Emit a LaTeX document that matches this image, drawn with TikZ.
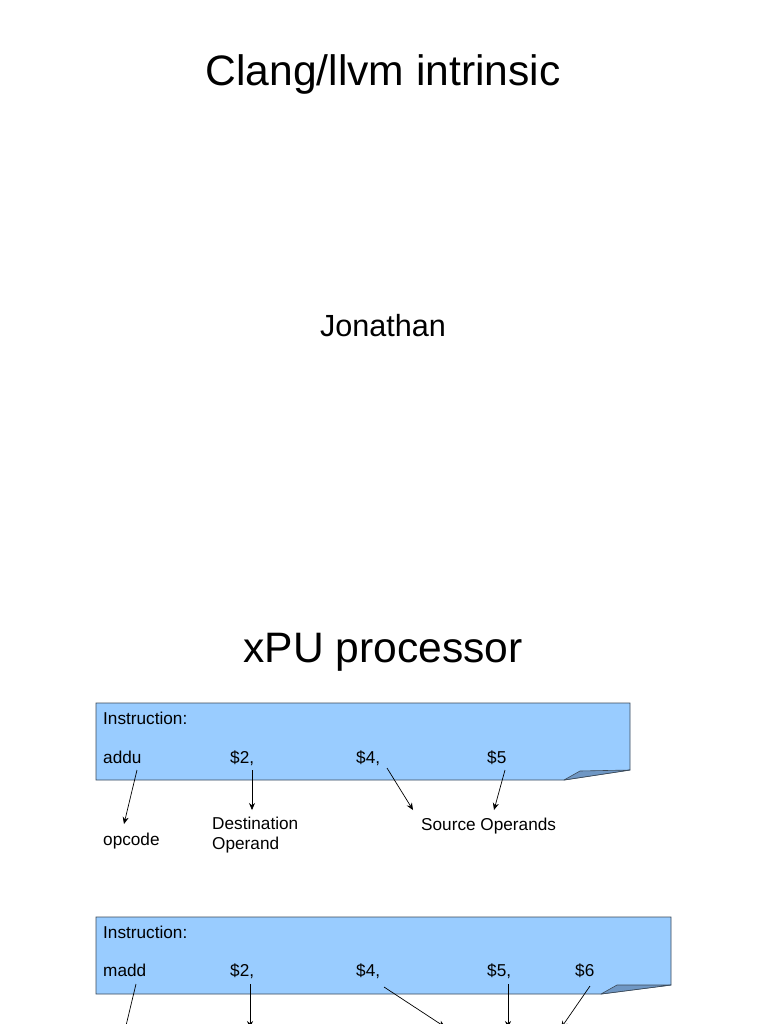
\documentclass[tikz,border=0pt]{standalone}
\usepackage{fontspec}
\setmainfont{Liberation Sans}
\usetikzlibrary{arrows.meta, calc}
\definecolor{cardblue}{HTML}{99CCFF}
\definecolor{cardline}{HTML}{3C4A58}
\definecolor{foldblue}{HTML}{6F97C4}

\begin{document}
\begin{tikzpicture}[
    x=1pt, y=-1pt,
    heading/.style={font=\fontsize{42.6}{50}\selectfont, inner sep=0pt, anchor=base},
    author/.style={font=\fontsize{30.6}{36}\selectfont, inner sep=0pt, anchor=base},
    card/.style={draw=cardline, fill=cardblue, line width=0.8pt},
    fold/.style={draw=cardline, fill=foldblue, line width=0.6pt, line join=round},
    field/.style={font=\fontsize{17.2}{20}\selectfont, inner sep=0pt, anchor=base west},
    note/.style={font=\fontsize{17.2}{20}\selectfont, inner sep=0pt, align=left},
    ptr/.style={-{Stealth[length=7pt, width=6pt]}, line width=0.7pt},
]

\fill[white] (0,0) rectangle (768,1024);
\useasboundingbox (0,0) rectangle (768,1024);

% Title slide
\node[heading] (title) at (383,86) {Clang/llvm intrinsic};
\node[author] (name) at (383,336) {Jonathan};

% Second slide
\node[heading] (xpu) at (383,662) {xPU processor};

% addu card
\draw[card] (96,703) -- (630,703) -- (630,770) -- (564,780) -- (96,780) -- cycle;
\draw[fold] (564,780) -- (580,771) -- (630,770) -- cycle;
\node[field] (ins1) at (103,724) {Instruction:};
\node[field] (addu) at (103,763) {addu};
\node[field] (a2) at (230,763) {\$2,};
\node[field] (a4) at (356,763) {\$4,};
\node[field] (a5) at (487,763) {\$5};

\node[field] (opcode) at (103,845) {opcode};
\node[note, anchor=north west] (dest) at (212,817) {Destination\\Operand};
\node[field] (src) at (421,830) {Source Operands};

\draw[ptr] ($(addu.base west)+(34,7)$) -- ($(opcode.base west)+(21,-21)$);
\draw[ptr] ($(a2.base west)+(22,7)$) -- ($(dest.north west)+(40,-7)$);
\draw[ptr] ($(a4.base west)+(31,5)$) -- ($(src.base west)+(-8,-20)$);
\draw[ptr] ($(a5.base west)+(18,7)$) -- ($(src.base west)+(73,-20)$);

% madd card
\draw[card] (96,917) -- (671,917) -- (671,985) -- (601,994) -- (96,994) -- cycle;
\draw[fold] (601,994) -- (617,985) -- (671,985) -- cycle;
\node[field] (ins2) at (103,938) {Instruction:};
\node[field] (madd) at (103,976) {madd};
\node[field] (m2) at (230,976) {\$2,};
\node[field] (m4) at (356,976) {\$4,};
\node[field] (m5) at (487,976) {\$5,};
\node[field] (m6) at (575,976) {\$6};

\coordinate (e1) at (124,1034);
\coordinate (e2) at (250,1028);
\coordinate (e3) at (445,1027);
\coordinate (e4) at (508,1028);
\coordinate (e5) at (561,1028);

\draw[ptr] ($(madd.base west)+(33,8)$) -- (e1);
\draw[ptr] ($(m2.base west)+(20,8)$) -- (e2);
\draw[ptr] ($(m4.base west)+(28,11)$) -- (e3);
\draw[ptr] ($(m5.base west)+(21,8)$) -- (e4);
\draw[ptr] ($(m6.base west)+(15,10)$) -- (e5);

\end{tikzpicture}
\end{document}
